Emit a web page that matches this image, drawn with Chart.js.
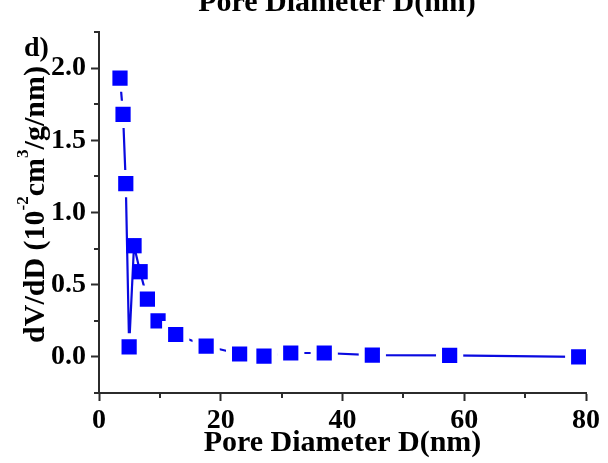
<!DOCTYPE html>
<html>
<head>
<meta charset="utf-8">
<script src="https://cdn.jsdelivr.net/npm/chart.js@4.4.0/dist/chart.umd.min.js"></script>
<style>
  html, body { margin: 0; padding: 0; background: #fff; }
  canvas { display: block; }
</style>
</head>
<body>
<canvas id="grafico" width="608" height="463"></canvas>
<script>
// distribuição de tamanho de poro (BJH) - diâmetro em nm e dV/dD em 10^-2 cm3/g/nm
const diametroPoro = [3.45, 3.95, 4.4, 4.95, 5.75, 6.75, 7.95, 9.7, 12.6, 17.6, 23.1, 27.1, 31.5, 37.0, 44.9, 57.6, 78.8];
const dvdd = [1.93, 1.68, 1.20, 0.07, 0.77, 0.59, 0.40, 0.25, 0.155, 0.075, 0.02, 0.005, 0.027, 0.027, 0.012, 0.01, 0.0];

// rótulos que aparecem nos eixos (os demais ticks são só traços menores)
const ticksX = [0, 20, 40, 60, 80];
const ticksY = [0.0, 0.5, 1.0, 1.5, 2.0];

const tituloX = 'Pore Diameter D(nm)';
const rotuloPainel = 'd)';
// título do eixo y em pedaços: [texto, sobrescrito?]
const tituloY = [['dV/dD (10', false], ['-2', true], ['cm', false], ['3', true], ['/g/nm)', false]];

const fonte = "'Liberation Serif', 'Times New Roman', serif";
const corEixo = '#2b2b2b';
const azul = '#0000ff';

// pontos muito próximos da linha que desce até o mínimo ficam sem a borda branca
const semHalo = [4, 5];

function ehRotuloY(v) {
    return ticksY.some(t => Math.abs(t - v) < 1e-6);
}

// desenha os traços menores, o título do eixo y (com sobrescritos), o "d)" e o título do painel de cima
const extras = {
    id: 'extras',
    afterDraw(chart) {
        const { ctx, scales: { x, y } } = chart;
        ctx.save();
        ctx.strokeStyle = corEixo;
        ctx.lineWidth = 2;
        ctx.beginPath();
        x.ticks.forEach(t => {
            if (!ticksX.includes(t.value)) {
                const px = Math.round(x.getPixelForValue(t.value));
                ctx.moveTo(px, x.top);
                ctx.lineTo(px, x.top + 5);
            }
        });
        y.ticks.forEach(t => {
            if (!ehRotuloY(t.value)) {
                const py = Math.round(y.getPixelForValue(t.value));
                ctx.moveTo(y.right, py);
                ctx.lineTo(y.right - 5, py);
            }
        });
        ctx.stroke();

        ctx.fillStyle = '#000';
        ctx.textBaseline = 'alphabetic';

        // título do eixo y, girado
        const fonteNormal = 'bold 30px ' + fonte;
        const fonteSobre = 'bold 17px ' + fonte;
        let total = 0;
        tituloY.forEach(([txt, sobre]) => {
            ctx.font = sobre ? fonteSobre : fonteNormal;
            total += ctx.measureText(txt).width;
        });
        const centroY = (chart.chartArea.top + chart.chartArea.bottom) / 2 - 8;
        ctx.save();
        ctx.translate(44, centroY + total / 2);
        ctx.rotate(-Math.PI / 2);
        let pos = 0;
        tituloY.forEach(([txt, sobre]) => {
            ctx.font = sobre ? fonteSobre : fonteNormal;
            ctx.fillText(txt, pos, sobre ? -16 : 0);
            pos += ctx.measureText(txt).width;
        });
        ctx.restore();

        // letra do painel
        ctx.font = 'bold 28px ' + fonte;
        ctx.textAlign = 'left';
        ctx.fillText(rotuloPainel, 24, 56);

        // título do eixo x do painel de cima, cortado na borda
        ctx.font = 'bold 30px ' + fonte;
        ctx.textAlign = 'center';
        ctx.fillText(tituloX, 337, 11);
        ctx.restore();
    }
};

const grafico = new Chart(document.getElementById('grafico'), {
    type: 'line',
    data: {
        datasets: [{
            data: diametroPoro.map((d, i) => ({ x: d, y: dvdd[i] })),
            borderColor: '#0a0ae0',
            borderWidth: 2.2,
            fill: false,
            tension: 0,
            pointStyle: 'rect',
            pointBackgroundColor: azul,
            pointBorderColor: '#ffffff',
            pointRadius: ctx => semHalo.includes(ctx.dataIndex) ? 10.8 : 15,
            pointBorderWidth: ctx => semHalo.includes(ctx.dataIndex) ? 0 : 6
        }]
    },
    options: {
        responsive: false,
        devicePixelRatio: 1,
        animation: false,
        layout: { padding: { top: 32, right: 22, left: 0, bottom: 0 } },
        plugins: {
            legend: { display: false },
            tooltip: { enabled: false }
        },
        scales: {
            x: {
                type: 'linear',
                min: 0,
                max: 80,
                ticks: {
                    stepSize: 10,
                    autoSkip: false,
                    maxRotation: 0,
                    padding: 3,
                    color: '#000',
                    font: { family: fonte, size: 28, weight: 'bold' },
                    callback: v => ticksX.includes(v) ? String(v) : ''
                },
                grid: {
                    drawOnChartArea: false,
                    tickLength: 8,
                    tickWidth: 2,
                    tickColor: ctx => (ctx.tick && ticksX.includes(ctx.tick.value)) ? corEixo : 'rgba(0,0,0,0)'
                },
                border: { color: corEixo, width: 2 },
                title: {
                    display: true,
                    text: tituloX,
                    color: '#000',
                    font: { family: fonte, size: 30, weight: 'bold' },
                    padding: { top: 0, bottom: 2 }
                },
                afterFit: escala => { escala.height = 70; }
            },
            y: {
                type: 'linear',
                min: -0.25,
                max: 2.25,
                ticks: {
                    stepSize: 0.25,
                    autoSkip: false,
                    padding: 5,
                    color: '#000',
                    font: { family: fonte, size: 28, weight: 'bold' },
                    callback: v => ehRotuloY(v) ? v.toFixed(1) : ''
                },
                grid: {
                    drawOnChartArea: false,
                    tickLength: 8,
                    tickWidth: 2,
                    tickColor: ctx => (ctx.tick && ehRotuloY(ctx.tick.value)) ? corEixo : 'rgba(0,0,0,0)'
                },
                border: { color: corEixo, width: 2 },
                afterFit: escala => { escala.width = 99; }
            }
        }
    },
    plugins: [extras]
});
</script>
</body>
</html>
